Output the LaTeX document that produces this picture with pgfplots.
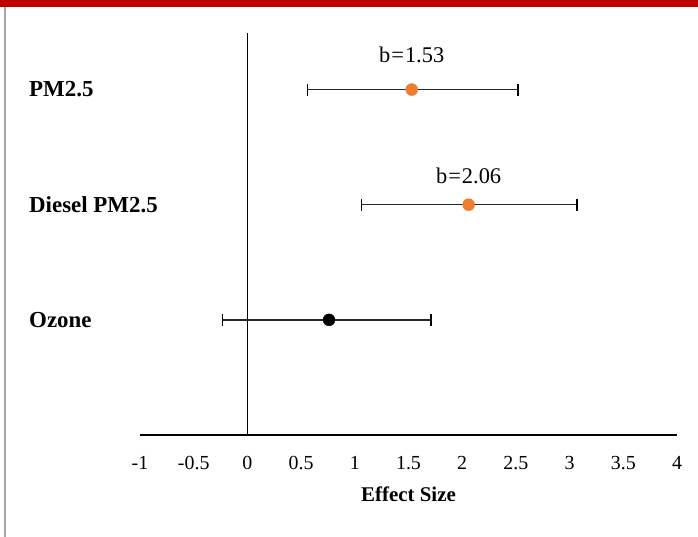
\documentclass[border=0pt]{standalone}
\usepackage{pgfplots}
\pgfplotsset{compat=1.18}
\usepackage{fontspec}
\setmainfont{Liberation Serif}
\definecolor{topred}{HTML}{C00000}
\definecolor{ptorange}{HTML}{ED7D31}
\definecolor{frameg}{HTML}{A6A6A6}
\begin{document}
\begin{tikzpicture}
\path[use as bounding box] (0,0) rectangle (698bp,537bp);
\fill[white] (0,0) rectangle (698bp,537bp);
\fill[topred] (0,530bp) rectangle (698bp,537bp);
\draw[frameg, line width=2bp] (5bp,0) -- (5bp,530bp);
\begin{axis}[
  at={(140bp,102bp)}, anchor=south west,
  width=537bp, height=403bp, scale only axis,
  xmin=-1, xmax=4, ymin=0, ymax=3.5,
  axis x line*=bottom, axis y line*=left,
  x axis line style={black, line width=1.5bp, -},
  y axis line style={draw=none},
  major tick length=0pt,
  xtick={-1,-0.5,0,0.5,1,1.5,2,2.5,3,3.5,4},
  xticklabels={-1,-0.5,0,0.5,1,1.5,2,2.5,3,3.5,4},
  xticklabel style={font=\fontsize{20}{24}\selectfont, yshift=-18bp},
  ytick={1,2,3},
  yticklabels={Ozone,Diesel PM2.5,PM2.5},
  yticklabel style={font=\fontsize{23}{27}\selectfont\bfseries, anchor=west, inner sep=0pt, xshift=-111bp},
  xlabel={Effect Size},
  xlabel style={font=\fontsize{21}{25}\selectfont\bfseries, yshift=-10bp},
  clip=false,
]
\addplot[black, line width=1.5bp] coordinates {(0,0) (0,3.49)};
\addplot[only marks, mark=*, mark size=6bp, color=ptorange,
  error bars/.cd, x dir=both, x explicit,
  error mark=|, error mark options={black, mark size=6bp, line width=1.4bp},
  error bar style={black!85, line width=1.5bp}]
  coordinates {
  (1.53,3) += (0.99,0) -= (0.97,0)
  (2.06,2) += (1.01,0) -= (1.00,0)
  };
\addplot[only marks, mark=*, mark size=6bp, color=black,
  error bars/.cd, x dir=both, x explicit,
  error mark=|, error mark options={black, mark size=6bp, line width=1.4bp},
  error bar style={black!85, line width=1.5bp}]
  coordinates {
  (0.76,1) += (0.95,0) -= (0.99,0)
  };
\node[font=\fontsize{22.5}{27}\selectfont] at (axis cs:1.53,3.30) {b\kern1bp=\kern1bp1.53};
\node[font=\fontsize{22.5}{27}\selectfont] at (axis cs:2.06,2.25) {b\kern1bp=\kern1bp2.06};
\end{axis}
\end{tikzpicture}
\end{document}
